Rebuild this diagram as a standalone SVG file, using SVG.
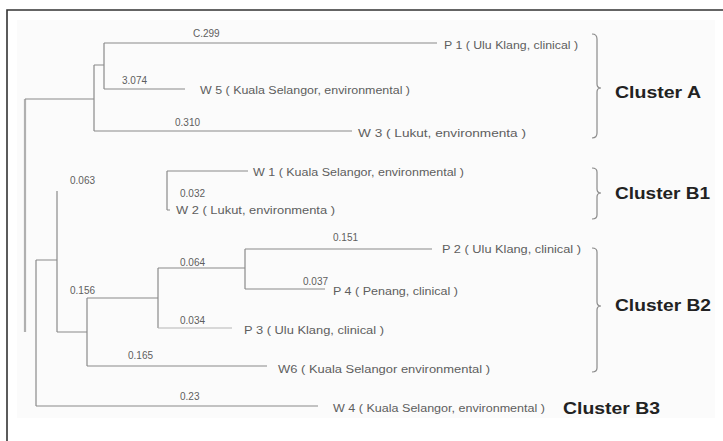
<svg xmlns="http://www.w3.org/2000/svg" width="723" height="441" viewBox="0 0 723 441">
<style>
.br{stroke:#8a8a8a;stroke-width:1.2;fill:none}
.lb{font-family:"Liberation Sans",Arial,sans-serif;font-size:10px;fill:#5e5e5e}
.cl{font-family:"Liberation Sans",Arial,sans-serif;font-size:17px;font-weight:bold;fill:#222}
.bc{stroke:#8a8a8a;stroke-width:1.2;fill:none}
</style>
<rect width="723" height="441" fill="#ffffff"/>
<rect x="17" y="20" width="698" height="398" fill="#fbfbfb"/>
<path d="M7,441 V10 H723" stroke="#333" stroke-width="1.6" fill="none"/>
<g id="connectors">
<line x1="25" y1="99" x2="25" y2="332" stroke="#b0b0b0" stroke-width="2.2"/>
<path class="br" d="M25,99 H94 M94,65 V131 M94,65 H104 M104,43 V89 M104,43 H437 M104,89 H185 M94,131 H352"/>
<path class="br" d="M167,171 V210 M167,171 H248 M167,210 H170"/>
<path class="br" d="M57,191 V332 M57,332 H87"/>
<path class="br" d="M36,260 V406 M36,260 H57 M36,406 H318"/>
<path class="br" d="M87,298 V366 M87,366 H267 M87,298 H158"/>
<path class="br" d="M158,268 V328 M158,268 H245"/>
<path d="M158,328 H232" stroke="#b5b5b5" stroke-width="1.2"/>
<path class="br" d="M245,249 V289 M245,249 H432 M245,289 H325"/>
</g>
<g id="branch-labels">
<text class="lb" x="193" y="37">C.299</text>
<text class="lb" x="122" y="84">3.074</text>
<text class="lb" x="175" y="126">0.310</text>
<text class="lb" x="70" y="184">0.063</text>
<text class="lb" x="180" y="197">0.032</text>
<text class="lb" x="333" y="241">0.151</text>
<text class="lb" x="180" y="266">0.064</text>
<text class="lb" x="303" y="285">0.037</text>
<text class="lb" x="70" y="294">0.156</text>
<text class="lb" x="180" y="324">0.034</text>
<text class="lb" x="128" y="359">0.165</text>
<text class="lb" x="180" y="400">0.23</text>
</g>
<g id="P1"><text class="lb" x="444" y="49" textLength="134" lengthAdjust="spacingAndGlyphs">P 1 ( Ulu Klang, clinical )</text></g>
<g id="W5"><text class="lb" x="200" y="94" textLength="210" lengthAdjust="spacingAndGlyphs">W 5 ( Kuala Selangor, environmental )</text></g>
<g id="W3"><text class="lb" x="358" y="137" textLength="168" lengthAdjust="spacingAndGlyphs">W 3 ( Lukut, environmenta )</text></g>
<g id="W1"><text class="lb" x="253" y="176" textLength="211" lengthAdjust="spacingAndGlyphs">W 1 ( Kuala Selangor, environmental )</text></g>
<g id="W2"><text class="lb" x="176" y="214" textLength="159" lengthAdjust="spacingAndGlyphs">W 2 ( Lukut, environmenta )</text></g>
<g id="P2"><text class="lb" x="442" y="253" textLength="139" lengthAdjust="spacingAndGlyphs">P 2 ( Ulu Klang, clinical )</text></g>
<g id="P4"><text class="lb" x="333" y="295" textLength="125" lengthAdjust="spacingAndGlyphs">P 4 ( Penang, clinical )</text></g>
<g id="P3"><text class="lb" x="244" y="334" textLength="140" lengthAdjust="spacingAndGlyphs">P 3 ( Ulu Klang, clinical )</text></g>
<g id="W6"><text class="lb" x="278" y="373" textLength="212" lengthAdjust="spacingAndGlyphs">W6 ( Kuala Selangor environmental )</text></g>
<g id="W4"><text class="lb" x="333" y="412" textLength="212" lengthAdjust="spacingAndGlyphs">W 4 ( Kuala Selangor, environmental )</text></g>
<g id="cluster-A">
<path class="bc" d="M592,34 Q597,34 597,39 V84 Q597,88 601,88 Q597,88 597,92 V133 Q597,138 592,138"/>
<text class="cl" x="615" y="98" textLength="86" lengthAdjust="spacingAndGlyphs">Cluster A</text>
</g>
<g id="cluster-B1">
<path class="bc" d="M592,168 Q597,168 597,172 V189 Q597,193 601,193 Q597,193 597,197 V215 Q597,219 592,219"/>
<text class="cl" x="615" y="199" textLength="95" lengthAdjust="spacingAndGlyphs">Cluster B1</text>
</g>
<g id="cluster-B2">
<path class="bc" d="M592,248 Q597,248 597,252 V302 Q597,306 601,306 Q597,306 597,310 V368 Q597,372 592,372"/>
<text class="cl" x="615" y="311" textLength="96" lengthAdjust="spacingAndGlyphs">Cluster B2</text>
</g>
<g id="cluster-B3">
<text class="cl" x="563" y="414" textLength="97" lengthAdjust="spacingAndGlyphs">Cluster B3</text>
</g>
</svg>
